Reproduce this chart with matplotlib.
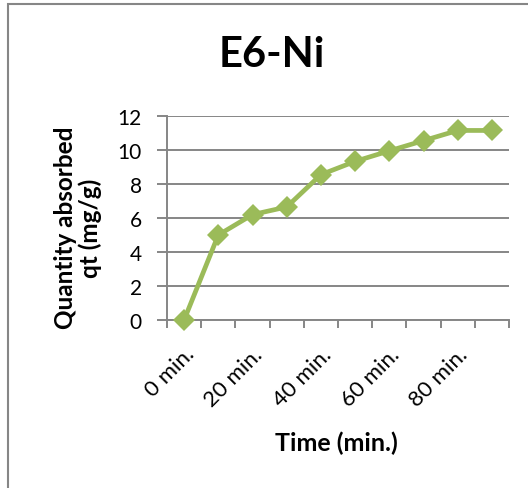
import matplotlib.pyplot as plt
from matplotlib.patches import Rectangle

# E6-Ni adsorption over time
time_labels = ["0 min.", "10 min.", "20 min.", "30 min.", "40 min.",
               "50 min.", "60 min.", "70 min.", "80 min.", "90 min."]
qt_values = [0.0, 5.0, 6.2, 6.65, 8.55, 9.33, 9.95, 10.55, 11.15, 11.15]
y_ticks = [0, 2, 4, 6, 8, 10, 12]

GREEN = "#9BBB59"
GRID = "#868686"

plt.rcParams["font.family"] = ["Lato", "DejaVu Sans"]

fig = plt.figure(figsize=(5.28, 4.89), dpi=100)
ax = fig.add_axes([167 / 528, 1 - 321 / 489, 342 / 528, 204 / 489])

# outer chart frame (only left and top edges visible)
fig.patches.append(Rectangle((8 / 528, -0.1), 1.2, 1 - 5 / 489 + 0.1,
                             transform=fig.transFigure, fill=False,
                             edgecolor=GRID, linewidth=1.5))

x = list(range(len(time_labels)))
ax.plot(x, qt_values, color=GREEN, linewidth=3.4, marker="D",
        markersize=11, markeredgewidth=0, zorder=3, clip_on=False)

ax.set_xlim(-0.5, len(time_labels) - 0.5)
ax.set_ylim(0, 12)
ax.set_yticks(y_ticks)
ax.yaxis.grid(True, color=GRID, linewidth=1.4)
ax.set_axisbelow(True)

# category boundary ticks, labels every second category
ax.set_xticks([i - 0.5 for i in range(len(time_labels) + 1)], minor=False)
ax.set_xticklabels([])
ax.set_xticks(x[::2], minor=True)
ax.set_xticklabels(time_labels[::2], minor=True, rotation=45,
                   ha="right", va="top", rotation_mode="anchor", fontsize=16)
ax.tick_params(axis="x", which="minor", length=0, pad=17)
ax.tick_params(axis="x", which="major", length=6, width=1.4, color=GRID)
ax.tick_params(axis="y", length=7, width=1.4, color=GRID, labelsize=15, pad=11)

for side in ["top", "right"]:
    ax.spines[side].set_visible(False)
for side in ["left", "bottom"]:
    ax.spines[side].set_color(GRID)
    ax.spines[side].set_linewidth(1.4)

fig.text(272 / 528, 1 - 55 / 489, "E6-Ni", fontsize=30, fontweight="bold",
         ha="center", va="center")
fig.text(336 / 528, 1 - 443 / 489, "Time (min.)", fontsize=18,
         fontweight="bold", ha="center", va="center")
fig.text(78 / 528, 1 - 228 / 489, "Quantity absorbed\nqt (mg/g)", fontsize=17.5,
         fontweight="bold", ha="center", va="center", rotation=90,
         linespacing=1.1)

fig.savefig("out.png", dpi=100)
